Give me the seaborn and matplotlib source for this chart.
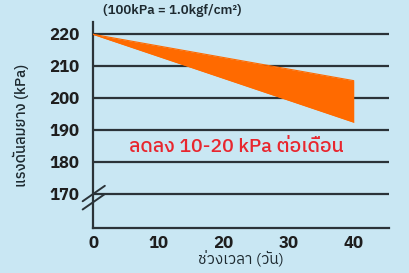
import matplotlib
matplotlib.use("Agg")
import matplotlib.pyplot as plt
import seaborn as sns
import pandas as pd
from matplotlib import font_manager as fm

days = [0, 40]
upper_kpa = [220, 205.5]
lower_kpa = [220, 192.5]
y_ticks = [170, 180, 190, 200, 210, 220]
x_ticks = [0, 10, 20, 30, 40]

title_text = "(100kPa = 1.0kgf/cm²)"
ylabel_text = "แรงดันลมยาง (kPa)"
xlabel_text = "ช่วงเวลา (วัน)"
note_text = "ลดลง 10-20 kPa ต่อเดือน"

sns.set_theme(style="white")
thai = [f.name for f in fm.fontManager.ttflist if "Thai" in f.name]
fams = sorted(set(thai)) + ["Noto Sans", "DejaVu Sans"]
plt.rcParams["font.family"] = fams

bg = "#c9e7f3"
dark = "#2b3338"
orange = "#ff6a00"

fig = plt.figure(figsize=(4.09, 2.73), dpi=100, facecolor=bg)
ax = fig.add_axes([0.2274, 0.1648, 0.7236, 0.754])
ax.set_facecolor(bg)

df = pd.DataFrame({"day": days + days, "kpa": upper_kpa + lower_kpa,
                   "edge": ["u", "u", "l", "l"]})
ax.fill_between(days, lower_kpa, upper_kpa, color=orange, linewidth=0, zorder=3)
sns.lineplot(data=df, x="day", y="kpa", units="edge", estimator=None,
             color=orange, linewidth=0.8, ax=ax, zorder=3)

ax.set_xlim(0, 45.4)
ax.set_ylim(159.4, 223.8)
for yv in y_ticks:
    ax.axhline(yv, color=dark, linewidth=1.6, zorder=2)
ax.set_yticks(y_ticks)
ax.set_xticks(x_ticks)
ax.tick_params(axis="y", length=7, width=1.6, color=dark, pad=3,
               labelsize=12, labelcolor="#1e1e1e")
ax.tick_params(axis="x", direction="in", length=5, width=1.6, color=dark,
               pad=6, labelsize=12, labelcolor="#1e1e1e")
for lab in ax.get_xticklabels() + ax.get_yticklabels():
    lab.set_fontweight("bold")

for s in ["top", "right"]:
    ax.spines[s].set_visible(False)
for s in ["left", "bottom"]:
    ax.spines[s].set_color(dark)
    ax.spines[s].set_linewidth(1.6)

ax.set_xlabel(xlabel_text, fontsize=11, color="#1e2a30", labelpad=0)
ax.set_ylabel(ylabel_text, fontsize=10.5, color="#1e2a30", labelpad=14,
              fontweight="medium")
ax.text(22.0, 184.7, note_text, color="#e8262e", fontsize=14,
        fontweight="medium", ha="center", va="center", zorder=4)
fig.text(0.42, 0.962, title_text, fontsize=9.5, color="#1e2a30",
         fontweight="semibold", ha="center", va="center")

# axis break marks
for dy in (0.0, 0.04):
    ax.plot([-0.035, 0.04], [0.09 + dy, 0.165 + dy], transform=ax.transAxes,
            color=dark, linewidth=1.4, clip_on=False, zorder=5)

fig.savefig("out.png", dpi=100, facecolor=bg)
